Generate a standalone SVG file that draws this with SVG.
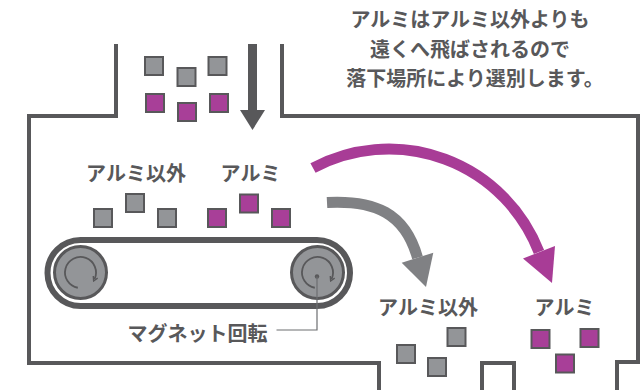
<svg xmlns="http://www.w3.org/2000/svg" width="643" height="390" viewBox="0 0 643 390">
  <style>
    .wall { fill: none; stroke: #58585a; stroke-width: 4; stroke-linejoin: miter; }
    .txt { font-family: "Noto Sans CJK JP", "Noto Sans", sans-serif; font-weight: bold; fill: #58585a; text-anchor: middle; }
    .lbl { font-size: 20px; }
    .note { font-size: 20px; }
    .sq-gray { fill: #939598; stroke: #58585a; stroke-width: 2; }
    .sq-alu { fill: #a83f98; stroke: #58585a; stroke-width: 2; }
    .roller { fill: #939598; stroke: #58585a; stroke-width: 3; }
    .spin { fill: none; stroke: #58585a; stroke-width: 1.8; }
    .flow-gray { fill: none; stroke: #808184; stroke-width: 11; }
    .flow-alu { fill: none; stroke: #a83c96; stroke-width: 11; }
  </style>
  <defs>
    <marker id="spinHead" viewBox="0 0 6 6" refX="3" refY="3" markerWidth="6" markerHeight="6" markerUnits="userSpaceOnUse" orient="auto">
      <path d="M0.8,0.6 L5.2,3 L0.8,5.4" fill="none" stroke="#58585a" stroke-width="1.4"/>
    </marker>
  </defs>

  <!-- separator housing: hopper walls, chamber and collecting bins -->
  <g id="housing">
    <path class="wall" d="M116,44 V116 H29 V363 H379 V392"/>
    <path class="wall" d="M282,44 V116 H638 V362 H617 V392"/>
    <path class="wall" d="M482,392 V363 H514 V392"/>
  </g>

  <!-- explanatory note -->
  <g id="note">
    <text class="txt note" x="470" y="27">アルミはアルミ以外よりも</text>
    <text class="txt note" x="470" y="56.5">遠くへ飛ばされるので</text>
    <text class="txt note" x="475" y="86">落下場所により選別します。</text>
  </g>

  <!-- mixed material entering through the hopper -->
  <g id="feed">
    <rect class="sq-gray" x="145" y="57" width="18" height="18"/>
    <rect class="sq-gray" x="177.5" y="68" width="18" height="18"/>
    <rect class="sq-gray" x="208.5" y="57" width="18" height="18"/>
    <rect class="sq-alu" x="146" y="94" width="18" height="18"/>
    <rect class="sq-alu" x="178" y="103" width="18" height="18"/>
    <rect class="sq-alu" x="210" y="94" width="18" height="18"/>
  </g>
  <g id="feed-arrow">
    <rect x="248" y="44" width="9" height="67" fill="#58585a"/>
    <polygon points="240,110 265,110 252.5,130" fill="#58585a"/>
  </g>

  <!-- material on the belt -->
  <g id="belt-nonalu">
    <text class="txt lbl" x="136" y="181">アルミ以外</text>
    <rect class="sq-gray" x="94" y="209" width="18" height="18"/>
    <rect class="sq-gray" x="126" y="194" width="18" height="18"/>
    <rect class="sq-gray" x="158" y="209" width="18" height="18"/>
  </g>
  <g id="belt-alu">
    <text class="txt lbl" x="250.5" y="181">アルミ</text>
    <rect class="sq-alu" x="208" y="209" width="18" height="18"/>
    <rect class="sq-alu" x="240" y="194.5" width="18" height="18"/>
    <rect class="sq-alu" x="272" y="209" width="18" height="18"/>
  </g>

  <!-- conveyor with magnetic rollers -->
  <g id="conveyor">
    <rect x="47.5" y="240" width="302.5" height="66" rx="33" ry="33" fill="none" stroke="#58585a" stroke-width="6"/>
    <circle class="roller" cx="80.5" cy="272.5" r="26"/>
    <path class="spin" d="M77.81,287.76 A15.5,15.5 0 1 1 94.55,279.05" marker-end="url(#spinHead)"/>
    <circle class="roller" cx="317.5" cy="272.5" r="26"/>
    <path class="spin" d="M314.81,287.76 A15.5,15.5 0 1 1 331.55,279.05" marker-end="url(#spinHead)"/>
    <circle cx="317" cy="276.5" r="2.2" fill="#58585a"/>
  </g>

  <!-- magnet rotation callout -->
  <g id="magnet-label">
    <polyline points="317,276.5 317,330 276.5,330" fill="none" stroke="#6d6e71" stroke-width="1.2"/>
    <text class="txt lbl" x="197.5" y="341">マグネット回転</text>
  </g>

  <!-- trajectories -->
  <g id="connectors">
    <path class="flow-gray" d="M327,202.5 C375,200 405,213 417.5,257.7"/>
    <polygon points="401.7,262.7 433.3,252.7 426,287" fill="#808184"/>
    <path class="flow-alu" d="M313,168 A161,161 0 0 1 539,252"/>
    <polygon points="523,258.5 555,246 552,283" fill="#a83c96"/>
  </g>

  <!-- sorted output -->
  <g id="out-nonalu">
    <text class="txt lbl" x="428" y="315">アルミ以外</text>
    <rect class="sq-gray" x="397" y="345" width="18" height="18"/>
    <rect class="sq-gray" x="428" y="358" width="18" height="18"/>
    <rect class="sq-gray" x="447.5" y="328" width="18" height="18"/>
  </g>
  <g id="out-alu">
    <text class="txt lbl" x="564.5" y="315">アルミ</text>
    <rect class="sq-alu" x="531.5" y="330" width="18" height="18"/>
    <rect class="sq-alu" x="556" y="354.5" width="18" height="18"/>
    <rect class="sq-alu" x="580.5" y="329" width="18" height="18"/>
  </g>
</svg>
